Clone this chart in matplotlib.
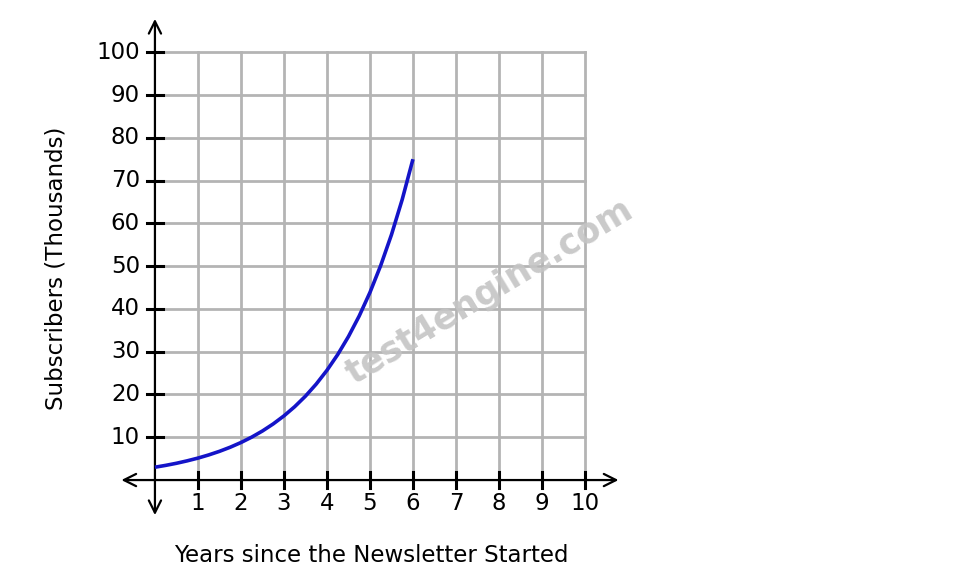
import matplotlib
matplotlib.use("Agg")
import matplotlib.pyplot as plt

years = [0, 0.25, 0.5, 0.75, 1, 1.25, 1.5, 1.75, 2, 2.25, 2.5, 2.75, 3,
         3.25, 3.5, 3.75, 4, 4.25, 4.5, 4.75, 5, 5.25, 5.5, 5.75, 6]
subscribers = [3.0, 3.43, 3.92, 4.49, 5.13, 5.87, 6.71, 7.67, 8.77, 10.03,
               11.47, 13.12, 15.0, 17.15, 19.61, 22.43, 25.65, 29.33, 33.54,
               38.35, 43.85, 50.15, 57.34, 65.57, 75.0]
x_ticks = [1, 2, 3, 4, 5, 6, 7, 8, 9, 10]
y_ticks = [10, 20, 30, 40, 50, 60, 70, 80, 90, 100]
x_label = "Years since the Newsletter Started"
y_label = "Subscribers (Thousands)"

fig = plt.figure(figsize=(9.8, 5.82), dpi=100)
ax = fig.add_axes([0.123, 0.1127, 0.509, 0.860])
ax.set_xlim(-0.8, 10.8)
ax.set_ylim(-8.5, 108.5)
ax.axis("off")

grid_c = "#b4b4b4"
for xv in x_ticks:
    ax.plot([xv, xv], [0, 100], color=grid_c, lw=2.0, zorder=1)
for yv in y_ticks:
    ax.plot([0, 10], [yv, yv], color=grid_c, lw=2.0, zorder=1)

# axes with arrows
ax.annotate("", xy=(-0.78, 0), xytext=(10.78, 0),
            arrowprops=dict(arrowstyle="<->", lw=1.6, color="black",
                            mutation_scale=22, shrinkA=0, shrinkB=0), zorder=3)
ax.annotate("", xy=(0, -8.2), xytext=(0, 107.8),
            arrowprops=dict(arrowstyle="<->", lw=1.6, color="black",
                            mutation_scale=22, shrinkA=0, shrinkB=0), zorder=3)

for xv in x_ticks:
    ax.plot([xv, xv], [-1.9, 1.9], color="black", lw=2.2, zorder=3)
    ax.text(xv, -5.5, str(xv), ha="center", va="center", fontsize=16.5)
for yv in y_ticks:
    ax.plot([-0.19, 0.19], [yv, yv], color="black", lw=2.2, zorder=3)
    ax.text(-0.35, yv, str(yv), ha="right", va="center", fontsize=16.5)

ax.plot(years, subscribers, color="#1414c8", lw=2.6, zorder=4,
        solid_capstyle="butt")

fig.text(371 / 980, 1 - 555 / 582, x_label, ha="center", va="center", fontsize=16.5)
fig.text(56 / 980, 1 - 268 / 582, y_label, ha="center", va="center",
         fontsize=16.5, rotation=90)

fig.text(490 / 980, 1 - 292 / 582, "test4engine.com", ha="center", va="center",
         fontsize=25, fontweight="bold", color="#c4c4c4", rotation=31,
         alpha=0.9, zorder=5)

fig.savefig("out.png", dpi=100)
